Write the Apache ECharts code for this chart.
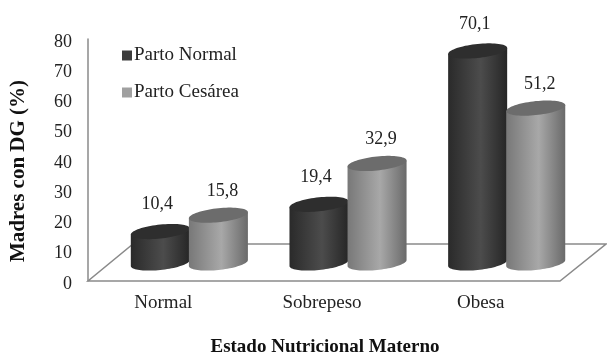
<!DOCTYPE html>
<html>
<head>
<meta charset="utf-8">
<style>html,body{margin:0;padding:0;background:#fff}#chart{width:607px;height:353px}</style>
<script src="https://cdn.jsdelivr.net/npm/echarts@6/dist/echarts.min.js"></script>
</head>
<body>
<div id="chart"></div>
<script>
const categories = ['Normal', 'Sobrepeso', 'Obesa'];
const partoNormal = [10.4, 19.4, 70.1];
const partoCesarea = [15.8, 32.9, 51.2];
const yTicks = { min: 0, max: 80, interval: 10 };

const FONT = '"Liberation Serif", serif';
const BASE_LIFT = 18;   // floor of the 3D box sits above the value-axis zero
const TILT = 3;         // rim slant of the cylinders
const RIM = 7;          // vertical radius of the rims

function rimPoints(cx, cy, r, from, to, n) {
  const pts = [];
  for (let i = 0; i <= n; i++) {
    const t = from + (to - from) * i / n;
    pts.push([cx + r * Math.cos(t), cy + RIM * Math.sin(t) - TILT * Math.cos(t)]);
  }
  return pts;
}

function cylinderSeries(name, values, style) {
  return {
    name, type: 'custom', z: 3,
    itemStyle: { color: style.legend },
    data: values.map((v, i) => [i, v]),
    encode: { x: 0, y: 1 },
    renderItem(params, api) {
      const band = api.size([1, 0])[0];
      const at = api.coord([api.value(0), 0]);
      const cx = at[0] + band * style.shift;
      const baseY = at[1] - BASE_LIFT;
      const r = band * 0.186;
      const topY = baseY - api.size([0, api.value(1)])[1];
      const body = [[cx - r, topY + TILT], [cx + r, topY - TILT]]
        .concat(rimPoints(cx, baseY, r, 0, Math.PI, 40));
      return {
        type: 'group',
        children: [
          { type: 'polygon', shape: { points: body },
            style: { fill: { type: 'linear', x: 0, y: 0, x2: 1, y2: 0, colorStops: style.side } } },
          { type: 'polygon', shape: { points: rimPoints(cx, topY, r, 0, Math.PI * 2, 72) },
            style: { fill: style.top } },
          { type: 'text', x: cx + style.labelShift, y: topY - style.labelLift,
            style: { text: String(api.value(1)).replace('.', ','), fill: '#222',
              font: '18px ' + FONT, align: 'center', verticalAlign: 'middle' } }
        ]
      };
    }
  };
}

const chart = echarts.init(document.getElementById('chart'), null, { renderer: 'canvas' });
chart.setOption({
  animation: false,
  backgroundColor: '#fff',
  grid: { left: 84, width: 476, top: 39, bottom: 72, outerBoundsMode: 'none' },
  legend: {
    orient: 'vertical', left: 117, top: 41, itemGap: 18,
    itemWidth: 10, itemHeight: 10, icon: 'rect',
    textStyle: { fontFamily: FONT, fontSize: 19, color: '#222', padding: [0, 0, 0, -3] },
    data: ['Parto Normal', 'Parto Cesárea']
  },
  xAxis: {
    type: 'category', data: categories,
    axisLine: { show: false }, axisTick: { show: false },
    axisLabel: { fontFamily: FONT, fontSize: 19, color: '#222', margin: 13 },
    name: 'Estado Nutricional Materno', nameLocation: 'middle', nameGap: 57,
    nameTextStyle: { fontFamily: FONT, fontSize: 19, fontWeight: 'bold', color: '#111', padding: [0, 0, 0, 6] }
  },
  yAxis: {
    type: 'value', min: yTicks.min, max: yTicks.max, interval: yTicks.interval,
    offset: -4,
    splitLine: { show: false },
    axisLine: { show: true, lineStyle: { color: '#8a8a8a', width: 1.5 } },
    axisTick: { show: false },
    axisLabel: { fontFamily: FONT, fontSize: 18, color: '#222', margin: 16, verticalAlign: 'top', lineHeight: 6 },
    name: 'Madres con DG (%)', nameLocation: 'middle', nameGap: 59,
    nameTextStyle: { fontFamily: FONT, fontSize: 21, fontWeight: 'bold', color: '#111', padding: [0, 22, 0, 0] }
  },
  graphic: [{
    type: 'polygon', z: 1, silent: true,
    shape: { points: [[88, 281], [560, 281], [606, 244], [133, 244]] },
    style: { fill: '#fff', stroke: '#8a8a8a', lineWidth: 1.5 }
  }],
  series: [
    cylinderSeries('Parto Normal', partoNormal, {
      shift: -0.019, labelShift: -3, labelLift: 27, legend: '#3c3c3c', top: '#2e2e2e',
      side: [{ offset: 0, color: '#2a2a2a' }, { offset: 0.55, color: '#4c4c4c' }, { offset: 1, color: '#262626' }]
    }),
    cylinderSeries('Parto Cesárea', partoCesarea, {
      shift: 0.347, labelShift: 4, labelLift: 24, legend: '#a0a0a0', top: '#6c6c6c',
      side: [{ offset: 0, color: '#787878' }, { offset: 0.55, color: '#a8a8a8' }, { offset: 1, color: '#6a6a6a' }]
    })
  ]
});
</script>
</body>
</html>
